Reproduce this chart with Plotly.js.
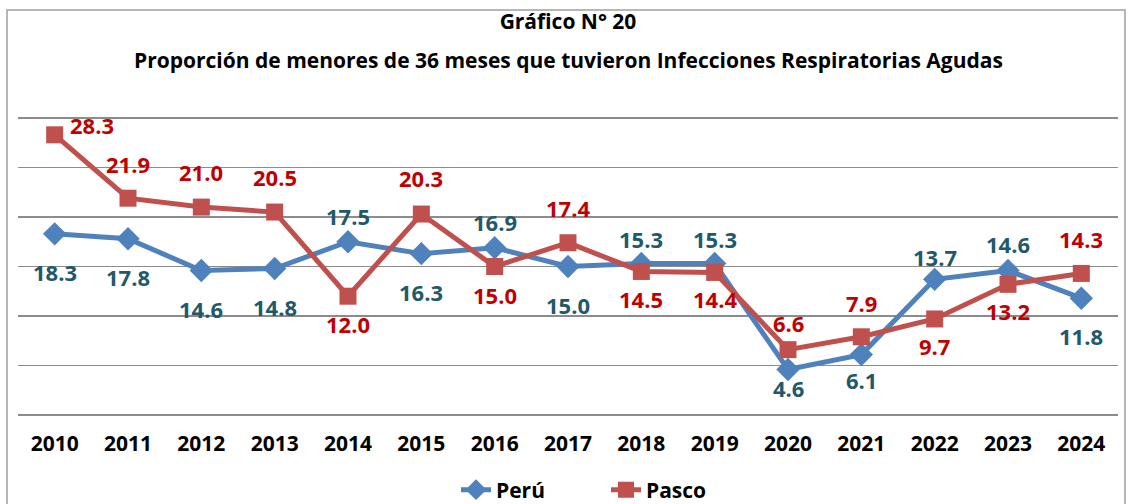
<!DOCTYPE html>
<html><head><meta charset="utf-8">
<script src="https://cdn.plot.ly/plotly-3.0.1.min.js"></script>
<style>html,body{margin:0;padding:0;background:#fff;}#chart{width:1128px;height:504px;}</style>
</head><body><div id="chart"></div>
<script>
const years = ['2010','2011','2012','2013','2014','2015','2016','2017','2018','2019','2020','2021','2022','2023','2024'];
const peru = [18.3,17.8,14.6,14.8,17.5,16.3,16.9,15.0,15.3,15.3,4.6,6.1,13.7,14.6,11.8];
const pasco = [28.3,21.9,21.0,20.5,12.0,20.3,15.0,17.4,14.5,14.4,6.6,7.9,9.7,13.2,14.3];
const titleLine1 = 'Gráfico N° 20';
const titleLine2 = 'Proporción de menores de 36 meses que tuvieron Infecciones Respiratorias Agudas';

// label offsets in pixels (style only)
const peruShift = [-38,-38,-39,-39,26,-38,26,-38,25,25,-19,-25,22,26,-38];
const pascoShift = [10,34,35,35,-28,36,-28,35,-28,-27,27,34,-27,-27,34];

const FONT = 'Open Sans, Noto Sans, sans-serif';
const peruLabel = '#215968', pascoLabel = '#C00000';

const annotations = [];
years.forEach((yr,i)=>{
  annotations.push({x:i, y:peru[i], xref:'x', yref:'y', text:'<b>'+peru[i].toFixed(1)+'</b>', showarrow:false,
    yshift: peruShift[i], font:{family:FONT, size:22, color:peruLabel}});
  annotations.push({x:i, y:pasco[i], xref:'x', yref:'y', text:'<b>'+pasco[i].toFixed(1)+'</b>', showarrow:false,
    yshift: pascoShift[i], xshift: i===0 ? 37 : 0, font:{family:FONT, size:22, color:pascoLabel}});
});
annotations.push({xref:'paper', yref:'paper', x:0.5, y:(420-60)/307, xanchor:'center', yanchor:'middle',
  text:'<b>'+titleLine2+'</b>', showarrow:false, font:{family:FONT, size:21, color:'#000'}});

const traces = [
  {x:years, y:peru, name:'Perú', type:'scatter', mode:'lines+markers',
   line:{color:'#4F81BD', width:5}, marker:{symbol:'diamond', size:18, color:'#4F81BD'}},
  {x:years, y:pasco, name:'Pasco', type:'scatter', mode:'lines+markers',
   line:{color:'#C0504D', width:5}, marker:{symbol:'square', size:17, color:'#C0504D'}}
];

const layout = {
  width:1128, height:504,
  margin:{l:18, r:10, t:113, b:84, autoexpand:false},
  paper_bgcolor:'#fff', plot_bgcolor:'#fff',
  title:{text:'<b>'+titleLine1+'</b>', x:0.5, xref:'paper', y:1-22/504, yanchor:'middle', font:{family:FONT, size:21, color:'#000'}},
  xaxis:{type:'category', range:[-0.5,14.5], showgrid:false, zeroline:false, showline:false,
    ticks:'outside', ticklen:5, tickcolor:'rgba(0,0,0,0)', automargin:false,
    tickfont:{family:FONT, size:21, color:'#000', weight:'bold'}, fixedrange:true},
  yaxis:{range:[-0.505,30.505], tickvals:[0,5,10,15,20,25,30], showgrid:true, gridcolor:'#8C8C8C', gridwidth:1.5, zeroline:false,
    showticklabels:false, ticks:'', showline:false, fixedrange:true, automargin:false},
  showlegend:true,
  legend:{orientation:'h', xref:'container', yref:'container', x:456/1128, xanchor:'left', y:1-490/504, yanchor:'middle',
    font:{family:FONT, size:21, color:'#000', weight:'bold'}, entrywidth:105, entrywidthmode:'pixels', tracegroupgap:0},
  annotations:annotations,
  shapes:[{type:'rect', xref:'paper', yref:'paper', x0:(7-18)/1100, x1:(1125-18)/1100,
    y0:(420-515)/307, y1:(420-10)/307, line:{color:'#A0A0A0', width:1.5}, fillcolor:'rgba(0,0,0,0)', layer:'below'}]
};
Plotly.newPlot('chart', traces, layout, {displayModeBar:false, staticPlot:true});
</script></body></html>
